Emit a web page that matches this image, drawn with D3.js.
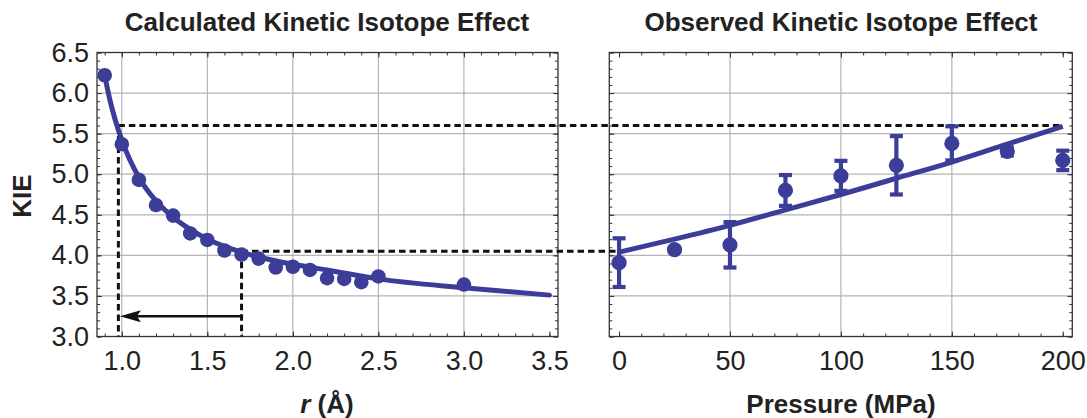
<!DOCTYPE html>
<html>
<head>
<meta charset="utf-8">
<script src="https://cdn.jsdelivr.net/npm/d3@7"></script>
<style>
  body { margin: 0; background: #fff; }
  text { font-family: "Liberation Sans", Arial, Helvetica, sans-serif; }
</style>
</head>
<body>
<script>
// calculated KIE vs distance r
var rVals = [0.9, 1.0, 1.1, 1.2, 1.3, 1.4, 1.5, 1.6, 1.7, 1.8, 1.9, 2.0, 2.1, 2.2, 2.3, 2.4, 2.5, 3.0];
var kieCalc = [6.22, 5.37, 4.93, 4.62, 4.49, 4.27, 4.19, 4.06, 4.01, 3.96, 3.85, 3.86, 3.82, 3.72, 3.71, 3.67, 3.74, 3.64];
// fitted curve
var fitR = [0.9, 0.93, 0.96, 1.0, 1.1, 1.2, 1.3, 1.4, 1.5, 1.6, 1.7, 1.8, 2.0, 2.2, 2.5, 3.0, 3.5];
var fitCalc = [6.22, 5.92, 5.68, 5.42, 4.96, 4.67, 4.47, 4.32, 4.2, 4.11, 4.04, 3.98, 3.89, 3.82, 3.71, 3.6, 3.51];

// observed KIE vs pressure
var pressure = [0, 25, 50, 75, 100, 125, 150, 175, 200];
var kieObs = [3.91, 4.07, 4.13, 4.8, 4.98, 5.11, 5.38, 5.28, 5.17];
var kieErr = [0.3, 0, 0.28, 0.19, 0.185, 0.36, 0.21, 0.05, 0.12];
var fitP = [0, 25, 50, 75, 100, 125, 150, 175, 200];
var fitObs = [4.04, 4.2, 4.37, 4.56, 4.75, 4.95, 5.15, 5.37, 5.59];

// guide lines linking both panels
var guideKie = [5.6, 4.05];
var guideR = [0.98, 1.7];
var guideP = [200, 0];
var arrowKie = 3.25;

// ticks
var kieMajor = [3.0, 3.5, 4.0, 4.5, 5.0, 5.5, 6.0, 6.5];
var kieGrid = [3.5, 4.0, 4.5, 5.0, 5.5, 6.0];
var kieMinor = d3.range(30, 66).map(function(d) { return d / 10; });
var rMajor = [1.0, 1.5, 2.0, 2.5, 3.0, 3.5];
var rGrid = [1.0, 1.5, 2.0, 2.5, 3.0];
var rMinor = d3.range(9, 36).map(function(d) { return d / 10; });
var pMajor = [0, 50, 100, 150, 200];
var pGrid = [50, 100, 150];
var pMinor = d3.range(0, 210, 10);

var blue = "#3c3c99";

var svg = d3.select("body").append("svg")
  .attr("width", 1087)
  .attr("height", 418);

var yk = d3.scaleLinear().domain([3, 6.5]).range([336.5, 52.5]);
var xr = d3.scaleLinear().domain([0.855, 3.55]).range([97, 558]);
var xp = d3.scaleLinear().domain([-4.4, 204.3]).range([609.3, 1072.3]);

function styleAxis(g) {
  g.select(".domain").remove();
  g.selectAll(".tick line").attr("stroke", "#333").attr("stroke-width", 1);
  g.selectAll(".tick text")
    .attr("font-family", "Liberation Sans, Arial, sans-serif")
    .attr("font-size", 27)
    .attr("fill", "#222");
}

function drawPanel(x, xMajor, xMinor, xGrid, xFmt, showY) {
  var g = svg.append("g");
  var x0 = x.range()[0], x1 = x.range()[1];
  var y0 = yk.range()[0], y1 = yk.range()[1];

  //grid lines
  g.selectAll(".vgrid").data(xGrid).join("line")
    .attr("class", "vgrid")
    .attr("x1", x).attr("x2", x)
    .attr("y1", y1).attr("y2", y0)
    .attr("stroke", "#b4b4b4").attr("stroke-width", 1.2);
  g.selectAll(".hgrid").data(kieGrid).join("line")
    .attr("class", "hgrid")
    .attr("x1", x0).attr("x2", x1)
    .attr("y1", yk).attr("y2", yk)
    .attr("stroke", "#b4b4b4").attr("stroke-width", 1.2);

  //minor ticks, all four sides
  g.append("g").attr("transform", "translate(0," + y0 + ")")
    .call(d3.axisBottom(x).tickValues(xMinor).tickSize(-3).tickFormat("")).call(styleAxis);
  g.append("g").attr("transform", "translate(0," + y1 + ")")
    .call(d3.axisTop(x).tickValues(xMinor).tickSize(-3).tickFormat("")).call(styleAxis);
  g.append("g").attr("transform", "translate(" + x0 + ",0)")
    .call(d3.axisLeft(yk).tickValues(kieMinor).tickSize(-3).tickFormat("")).call(styleAxis);
  g.append("g").attr("transform", "translate(" + x1 + ",0)")
    .call(d3.axisRight(yk).tickValues(kieMinor).tickSize(-3).tickFormat("")).call(styleAxis);

  //major ticks with labels
  g.append("g").attr("transform", "translate(0," + y0 + ")")
    .call(d3.axisBottom(x).tickValues(xMajor).tickSize(-5).tickPadding(14).tickFormat(xFmt)).call(styleAxis);
  g.append("g").attr("transform", "translate(0," + y1 + ")")
    .call(d3.axisTop(x).tickValues(xMajor).tickSize(-5).tickFormat("")).call(styleAxis);
  g.append("g").attr("transform", "translate(" + x0 + ",0)")
    .call(d3.axisLeft(yk).tickValues(kieMajor).tickSize(-5).tickPadding(8)
      .tickFormat(showY ? d3.format(".1f") : "")).call(styleAxis);
  g.append("g").attr("transform", "translate(" + x1 + ",0)")
    .call(d3.axisRight(yk).tickValues(kieMajor).tickSize(-5).tickFormat("")).call(styleAxis);

  //frame
  g.append("rect")
    .attr("x", x0).attr("y", y1)
    .attr("width", x1 - x0).attr("height", y0 - y1)
    .attr("fill", "none").attr("stroke", "#333").attr("stroke-width", 1.3);
  return g;
}

drawPanel(xr, rMajor, rMinor, rGrid, d3.format(".1f"), true);
drawPanel(xp, pMajor, pMinor, pGrid, d3.format("d"), false);

//dashed guide lines
var dash = svg.append("g")
  .attr("stroke", "#111")
  .attr("stroke-width", 3)
  .attr("stroke-dasharray", "6.5,4")
  .attr("fill", "none");
guideKie.forEach(function(k, i) {
  dash.append("line")
    .attr("x1", xr(guideR[i])).attr("x2", xp(guideP[i]))
    .attr("y1", yk(k)).attr("y2", yk(k));
  dash.append("line")
    .attr("x1", xr(guideR[i])).attr("x2", xr(guideR[i]))
    .attr("y1", yk(k)).attr("y2", yk(3));
});

//arrow back towards r
var ay = yk(arrowKie);
var tip = xr(guideR[0]) + 1.5;
svg.append("line")
  .attr("x1", xr(guideR[1])).attr("x2", tip + 16)
  .attr("y1", ay).attr("y2", ay)
  .attr("stroke", "#111").attr("stroke-width", 2.4);
svg.append("path")
  .attr("d", "M" + tip + "," + ay + "L" + (tip + 21) + "," + (ay - 6) + "L" + (tip + 17) + "," + ay + "L" + (tip + 21) + "," + (ay + 6) + "Z")
  .attr("fill", "#111");

//calculated curve + points
var calcLine = d3.line()
  .x(function(d, i) { return xr(fitR[i]); })
  .y(function(d) { return yk(d); })
  .curve(d3.curveMonotoneX);
svg.append("path")
  .datum(fitCalc)
  .attr("d", calcLine)
  .attr("fill", "none")
  .attr("stroke", blue)
  .attr("stroke-width", 5)
  .attr("stroke-linecap", "round");
svg.append("g").selectAll("circle").data(kieCalc).join("circle")
  .attr("cx", function(d, i) { return xr(rVals[i]); })
  .attr("cy", function(d) { return yk(d); })
  .attr("r", 7.3)
  .attr("fill", blue);

//observed fit + error bars + points
var obsLine = d3.line()
  .x(function(d, i) { return xp(fitP[i]); })
  .y(function(d) { return yk(d); })
  .curve(d3.curveMonotoneX);
svg.append("path")
  .datum(fitObs)
  .attr("d", obsLine)
  .attr("fill", "none")
  .attr("stroke", blue)
  .attr("stroke-width", 5);

var eb = svg.append("g").attr("stroke", blue).attr("stroke-width", 4.2);
kieObs.forEach(function(k, i) {
  if (kieErr[i] <= 0) return;
  var cx = xp(pressure[i]);
  var top = yk(k + kieErr[i]), bot = yk(k - kieErr[i]);
  eb.append("line").attr("x1", cx).attr("x2", cx).attr("y1", top).attr("y2", bot);
  eb.append("line").attr("x1", cx - 6.5).attr("x2", cx + 6.5).attr("y1", top).attr("y2", top);
  eb.append("line").attr("x1", cx - 6.5).attr("x2", cx + 6.5).attr("y1", bot).attr("y2", bot);
});
svg.append("g").selectAll("circle").data(kieObs).join("circle")
  .attr("cx", function(d, i) { return xp(pressure[i]); })
  .attr("cy", function(d) { return yk(d); })
  .attr("r", 7.6)
  .attr("fill", blue);

//titles and axis labels
svg.append("text")
  .attr("x", 327).attr("y", 31)
  .attr("text-anchor", "middle")
  .attr("font-size", 26).attr("font-weight", "bold").attr("fill", "#222")
  .text("Calculated Kinetic Isotope Effect");
svg.append("text")
  .attr("x", 841).attr("y", 31)
  .attr("text-anchor", "middle")
  .attr("font-size", 26).attr("font-weight", "bold").attr("fill", "#222")
  .text("Observed Kinetic Isotope Effect");

svg.append("text")
  .attr("transform", "translate(31,196) rotate(-90)")
  .attr("text-anchor", "middle")
  .attr("font-size", 26).attr("font-weight", "bold").attr("fill", "#222")
  .text("KIE");

var rl = svg.append("text")
  .attr("x", 327).attr("y", 413)
  .attr("text-anchor", "middle")
  .attr("font-size", 26).attr("font-weight", "bold").attr("fill", "#222");
rl.append("tspan").attr("font-style", "italic").text("r");
rl.append("tspan").text(" (Å)");

svg.append("text")
  .attr("x", 841).attr("y", 413)
  .attr("text-anchor", "middle")
  .attr("font-size", 26).attr("font-weight", "bold").attr("fill", "#222")
  .text("Pressure (MPa)");
</script>
</body>
</html>
